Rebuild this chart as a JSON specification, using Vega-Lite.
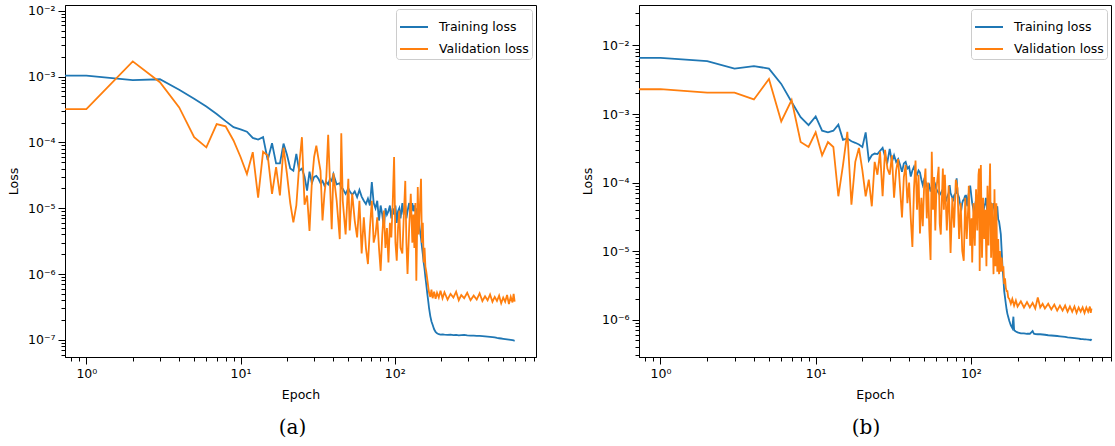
{
  "$schema": "https://vega.github.io/schema/vega-lite/v6.json",
  "background": "white",
  "padding": {"left": 6, "top": 4, "right": 1, "bottom": 5},
  "spacing": 43,
  "config": {
    "view": {"stroke": "#000", "strokeWidth": 1},
    "font": "DejaVu Sans",
    "axis": {"grid": false, "domainColor": "#000", "tickColor": "#000", "tickWidth": 1, "labelColor": "#000", "titleColor": "#000", "labelFont": "DejaVu Sans", "titleFont": "DejaVu Sans", "labelFontSize": 12.5, "titleFontSize": 12.5, "titleFontWeight": "normal", "labelOverlap": false, "labelFlush": false, "labelPadding": 3},
    "legend": {"title": null, "orient": "top-right", "offset": 4, "symbolType": "stroke", "symbolSize": 784, "symbolStrokeWidth": 2, "labelFontSize": 12.5, "labelFont": "DejaVu Sans", "labelColor": "#000", "strokeColor": "#cccccc", "fillColor": "white", "cornerRadius": 3, "padding": 3, "rowPadding": -15, "labelOffset": 10},
    "title": {"font": "DejaVu Serif", "fontSize": 20, "fontWeight": "normal", "color": "#000"}
  },
  "resolve": {"scale": {"color": "independent"}, "legend": {"color": "independent"}},
  "datasets": {
    "a": [
      {"e":0.7,"t":1.03e-3,"v":3.2e-4},{"e":1,"t":1.03e-3,"v":3.2e-4},{"e":2,"t":8.8e-4,"v":1.7e-3},{"e":3,"t":9.1e-4,"v":8.2e-4},
      {"e":4,"t":6.3e-4,"v":3.4e-4},{"e":5,"t":4.6e-4,"v":1.2e-4},{"e":6,"t":3.5e-4,"v":8.4e-5},{"e":7,"t":2.7e-4,"v":1.9e-4},
      {"e":8,"t":2.1e-4,"v":1.75e-4},{"e":9,"t":1.7e-4,"v":1.07e-4},{"e":10,"t":1.58e-4,"v":6e-5},{"e":11,"t":1.45e-4,"v":3.3e-5},
      {"e":12,"t":1.17e-4,"v":7.1e-5},{"e":13,"t":1.1e-4,"v":1.45e-5},{"e":14,"t":1.2e-4,"v":7.2e-5},{"e":15,"t":5.4e-5,"v":6.3e-5},
      {"e":16,"t":9.7e-5,"v":1.65e-5},{"e":17,"t":4.8e-5,"v":4.2e-5},{"e":18,"t":4.8e-5,"v":1.56e-5},{"e":19,"t":9.6e-5,"v":8.3e-5},
      {"e":20,"t":6.5e-5,"v":3.3e-5},{"e":21,"t":4.0e-5,"v":1.2e-5},{"e":22,"t":3.7e-5,"v":6.1e-6},{"e":23,"t":6.7e-5,"v":1.1e-5},
      {"e":24,"t":3.7e-5,"v":4.5e-5},{"e":25,"t":4.0e-5,"v":1.2e-4},{"e":26,"t":3.0e-5,"v":1.13e-5},{"e":27,"t":1.85e-5,"v":1.56e-5},
      {"e":28,"t":3.6e-5,"v":4.5e-6},{"e":29,"t":2.4e-5,"v":2.5e-5},{"e":30,"t":3.0e-5,"v":6e-5},{"e":31,"t":3.1e-5,"v":8.9e-5},
      {"e":32,"t":2.8e-5,"v":5.6e-5},{"e":33,"t":2.4e-5,"v":3.7e-5},{"e":34,"t":2.6e-5,"v":6.5e-6},{"e":35,"t":2.2e-5,"v":1.65e-5},
      {"e":36,"t":2.5e-5,"v":3.0e-5},{"e":37,"t":2.3e-5,"v":1.3e-4},{"e":38,"t":2.8e-5,"v":2.5e-5},{"e":39,"t":2.6e-5,"v":4.8e-6},
      {"e":40,"t":3.3e-5,"v":3.4e-5},{"e":42,"t":2.3e-5,"v":1.3e-5},{"e":44,"t":2.4e-5,"v":3.4e-6},{"e":45,"t":2.0e-5,"v":1.37e-4},
      {"e":46,"t":1.97e-5,"v":1.3e-5},{"e":48,"t":1.65e-5,"v":4e-6},{"e":50,"t":2.0e-5,"v":2.8e-5},{"e":51,"t":1.8e-5,"v":4.6e-6},
      {"e":53,"t":1.6e-5,"v":1.67e-5},{"e":55,"t":1.8e-5,"v":6.5e-6},{"e":57,"t":1.47e-5,"v":3.6e-6},{"e":59,"t":1.9e-5,"v":1.3e-5},
      {"e":61,"t":1.5e-5,"v":2.05e-6},{"e":63,"t":1.3e-5,"v":7.3e-6},{"e":65,"t":1.16e-5,"v":2.5e-6},{"e":67,"t":1.4e-5,"v":1.42e-6},
      {"e":69,"t":1.1e-5,"v":5e-6},{"e":71,"t":2.5e-5,"v":1.3e-5},{"e":73,"t":1.2e-5,"v":3e-6},{"e":75,"t":1.0e-5,"v":4e-6},
      {"e":77,"t":1.3e-5,"v":7.3e-6},{"e":79,"t":6.5e-6,"v":2.5e-6},{"e":81,"t":1.1e-5,"v":1.12e-6},{"e":83,"t":8e-6,"v":4e-6},
      {"e":85,"t":5.1e-6,"v":9.2e-6},{"e":87,"t":1.0e-5,"v":2.5e-6},{"e":89,"t":8e-6,"v":5e-6},{"e":91,"t":9e-6,"v":1.5e-6},
      {"e":93,"t":1.1e-5,"v":6e-6},{"e":95,"t":7e-6,"v":3.6e-6},{"e":97,"t":1.0e-5,"v":1.2e-5},{"e":99,"t":8e-6,"v":6e-5},
      {"e":101,"t":1.1e-5,"v":3e-6},{"e":103,"t":6e-6,"v":1.6e-6},{"e":105,"t":9e-6,"v":5e-6},{"e":107,"t":1.0e-5,"v":9.2e-6},
      {"e":109,"t":7e-6,"v":2.5e-6},{"e":112,"t":1.2e-5,"v":2.05e-6},{"e":114,"t":8e-6,"v":6e-6},{"e":117,"t":1.1e-5,"v":2.6e-5},
      {"e":119,"t":7e-6,"v":3e-6},{"e":121,"t":9e-6,"v":1e-6},{"e":124,"t":1.2e-5,"v":5e-6},{"e":127,"t":8e-6,"v":1.65e-5},
      {"e":130,"t":1.2e-5,"v":3e-6},{"e":132,"t":9e-6,"v":8e-6},{"e":134,"t":1.1e-5,"v":2.5e-6},{"e":136,"t":9e-6,"v":1.2e-5},
      {"e":138,"t":1.0e-5,"v":7.9e-7},{"e":141,"t":5.7e-6,"v":2.1e-5},{"e":143,"t":7e-6,"v":4e-6},{"e":145,"t":5e-6,"v":9e-6},
      {"e":148,"t":3.5e-6,"v":2.8e-5},{"e":150,"t":2.6e-6,"v":3e-6},{"e":152,"t":2e-6,"v":6e-6},{"e":154,"t":1.5e-6,"v":1.5e-6},
      {"e":156,"t":1.2e-6,"v":2.5e-6},{"e":158,"t":9e-7,"v":1.3e-6},{"e":160,"t":7e-7,"v":1.1e-6},{"e":163,"t":4.8e-7,"v":7.9e-7},
      {"e":165,"t":3.8e-7,"v":6.3e-7},{"e":167,"t":3.0e-7,"v":5.2e-7},{"e":170,"t":2.3e-7,"v":4.5e-7},{"e":173,"t":1.9e-7,"v":5.8e-7},
      {"e":176,"t":1.7e-7,"v":4.3e-7},{"e":180,"t":1.45e-7,"v":5.4e-7},{"e":184,"t":1.32e-7,"v":4.2e-7},{"e":188,"t":1.26e-7,"v":5.2e-7},
      {"e":193,"t":1.22e-7,"v":4.4e-7},{"e":198,"t":1.2e-7,"v":5.6e-7},{"e":204,"t":1.21e-7,"v":4.3e-7},{"e":210,"t":1.2e-7,"v":5.3e-7},
      {"e":220,"t":1.19e-7,"v":4.1e-7},{"e":230,"t":1.2e-7,"v":5.0e-7},{"e":240,"t":1.18e-7,"v":4.4e-7},{"e":250,"t":1.19e-7,"v":5.4e-7},
      {"e":260,"t":1.17e-7,"v":4.0e-7},{"e":270,"t":1.18e-7,"v":4.8e-7},{"e":282,"t":1.19e-7,"v":4.3e-7},{"e":295,"t":1.17e-7,"v":5.2e-7},
      {"e":310,"t":1.16e-7,"v":4.0e-7},{"e":325,"t":1.16e-7,"v":4.7e-7},{"e":340,"t":1.15e-7,"v":4.1e-7},{"e":355,"t":1.15e-7,"v":5.1e-7},
      {"e":370,"t":1.14e-7,"v":3.9e-7},{"e":385,"t":1.13e-7,"v":4.6e-7},{"e":400,"t":1.12e-7,"v":4.0e-7},{"e":415,"t":1.11e-7,"v":4.9e-7},
      {"e":430,"t":1.1e-7,"v":3.8e-7},{"e":445,"t":1.09e-7,"v":4.5e-7},{"e":460,"t":1.07e-7,"v":3.9e-7},{"e":475,"t":1.06e-7,"v":4.7e-7},
      {"e":490,"t":1.05e-7,"v":3.6e-7},{"e":505,"t":1.04e-7,"v":4.4e-7},{"e":520,"t":1.03e-7,"v":3.8e-7},{"e":535,"t":1.02e-7,"v":4.8e-7},
      {"e":550,"t":1.01e-7,"v":3.5e-7},{"e":565,"t":1.0e-7,"v":4.5e-7},{"e":580,"t":9.9e-8,"v":3.7e-7},{"e":590,"t":9.8e-8,"v":5.0e-7},
      {"e":599,"t":9.7e-8,"v":3.8e-7}
    ],
    "b": [
      {"e":0.7,"t":6.6e-3,"v":2.3e-3},{"e":1,"t":6.6e-3,"v":2.3e-3},{"e":2,"t":5.9e-3,"v":2.05e-3},{"e":3,"t":4.6e-3,"v":2.05e-3},
      {"e":4,"t":5.0e-3,"v":1.63e-3},{"e":5,"t":4.6e-3,"v":3.25e-3},{"e":6,"t":2.75e-3,"v":7.8e-4},{"e":7,"t":1.5e-3,"v":1.6e-3},
      {"e":8,"t":9.0e-4,"v":3.9e-4},{"e":9,"t":6.9e-4,"v":3.3e-4},{"e":10,"t":9.2e-4,"v":5.4e-4},{"e":11,"t":5.7e-4,"v":2.5e-4},
      {"e":12,"t":5.4e-4,"v":3.9e-4},{"e":13,"t":5.7e-4,"v":3.3e-4},{"e":14,"t":7e-4,"v":6.3e-5},{"e":15,"t":4.2e-4,"v":1.8e-4},
      {"e":16,"t":4.4e-4,"v":5.5e-4},{"e":17,"t":4.0e-4,"v":4.75e-5},{"e":18,"t":3.8e-4,"v":2e-4},{"e":19,"t":3.6e-4,"v":3.2e-4},
      {"e":20,"t":3.3e-4,"v":1.5e-4},{"e":21,"t":5.4e-4,"v":6.3e-5},{"e":22,"t":2.1e-4,"v":1.1e-4},{"e":23,"t":2.5e-4,"v":4.5e-5},
      {"e":24,"t":2.65e-4,"v":2e-4},{"e":25,"t":2.6e-4,"v":1.3e-4},{"e":26,"t":2.9e-4,"v":2.8e-4},{"e":27,"t":3.2e-4,"v":6.3e-5},
      {"e":28,"t":2.4e-4,"v":3e-4},{"e":29,"t":2.0e-4,"v":1.6e-4},{"e":30,"t":3.1e-4,"v":1.3e-4},{"e":31,"t":2.0e-4,"v":2.5e-4},
      {"e":32,"t":2.5e-4,"v":6e-5},{"e":33,"t":2.0e-4,"v":1.5e-4},{"e":34,"t":2.2e-4,"v":2.2e-4},{"e":35,"t":1.8e-4,"v":8e-5},
      {"e":36,"t":1.43e-4,"v":3.1e-5},{"e":37,"t":1.9e-4,"v":1.2e-4},{"e":38,"t":2e-4,"v":1.8e-4},{"e":39,"t":1.6e-4,"v":5e-5},
      {"e":40,"t":1.7e-4,"v":1.0e-4},{"e":41,"t":1.22e-4,"v":3e-5},{"e":42,"t":1.5e-4,"v":1.15e-5},{"e":43,"t":1.7e-4,"v":8e-5},
      {"e":44,"t":1.4e-4,"v":2.1e-4},{"e":45,"t":1.3e-4,"v":4e-5},{"e":46,"t":1.5e-4,"v":1.3e-4},{"e":47,"t":1.4e-4,"v":1.8e-5},
      {"e":48,"t":1.1e-4,"v":6e-5},{"e":49,"t":9.2e-5,"v":2.3e-5},{"e":50,"t":1.1e-4,"v":9e-5},{"e":51,"t":1.03e-4,"v":1.6e-4},
      {"e":52,"t":9e-5,"v":3e-5},{"e":53,"t":8e-5,"v":1.0e-4},{"e":54,"t":9e-5,"v":2e-5},{"e":55,"t":7.4e-5,"v":7.4e-6},
      {"e":56,"t":8.5e-5,"v":2.8e-4},{"e":57,"t":1.0e-4,"v":4e-5},{"e":58,"t":8e-5,"v":1.2e-4},{"e":59,"t":9.2e-5,"v":2e-5},
      {"e":60,"t":8e-5,"v":8e-5},{"e":62,"t":7e-5,"v":1.7e-4},{"e":63,"t":6.6e-5,"v":2.5e-5},{"e":64,"t":7e-5,"v":1.74e-5},
      {"e":66,"t":8e-5,"v":1.6e-4},{"e":67,"t":6e-5,"v":4e-5},{"e":68,"t":6.5e-5,"v":1.3e-4},{"e":69,"t":5.3e-5},
      {"e":70,"t":6e-5,"v":2e-5},{"e":72,"t":7e-5,"v":9e-5},{"e":73,"t":9.2e-5},{"e":74,"t":7e-5,"v":9.4e-6},
      {"e":76,"t":6e-5,"v":6e-5},{"e":77,"t":5.3e-5},{"e":78,"t":6.5e-5,"v":2.2e-5},{"e":80,"t":7e-5,"v":1.1e-4},
      {"e":81,"t":1.15e-4},{"e":82,"t":7e-5,"v":8.3e-5},{"e":84,"t":6e-5,"v":1.5e-5},{"e":85,"t":5e-5},
      {"e":86,"t":4.5e-5,"v":5e-5},{"e":87,"t":4.2e-5},{"e":88,"t":5e-5,"v":1e-5},{"e":89,"t":5.5e-5},
      {"e":90,"t":5.5e-5,"v":7.2e-6},{"e":91,"t":6e-5},{"e":92,"t":5.5e-5,"v":6e-5},{"e":93,"t":6.6e-5},
      {"e":94,"t":5e-5,"v":1.5e-5},{"e":95,"t":4.5e-5},{"e":96,"t":6e-5,"v":4e-5},{"e":97,"t":7e-5,"v":9e-5},
      {"e":99,"t":9e-5,"v":1.2e-5},{"e":101,"t":6e-5,"v":3e-5},{"e":102,"t":5e-5,"v":6.8e-6},{"e":103,"t":4.5e-5},
      {"e":104,"t":4e-5,"v":5e-5},{"e":105,"t":3.3e-5},{"e":106,"t":4e-5,"v":1.2e-5},{"e":107,"t":5e-5},
      {"e":108,"t":5.5e-5,"v":8e-5},{"e":109,"t":6e-5},{"e":110,"t":5e-5,"v":2e-5},{"e":111,"t":4.75e-5},
      {"e":112,"t":5e-5,"v":1.3e-4},{"e":113,"t":6e-5,"v":1.6e-4},{"e":114,"t":5e-5,"v":5.1e-6},{"e":115,"t":4e-5},
      {"e":116,"t":4.5e-5,"v":1.8e-4},{"e":117,"t":5e-5},{"e":118,"t":4e-5,"v":8e-6},{"e":120,"t":3.5e-5,"v":6e-5},
      {"e":122,"t":4.5e-5,"v":1.5e-5},{"e":124,"t":5e-5,"v":4e-5},{"e":125,"t":6e-5},{"e":126,"t":5e-5,"v":6e-6},
      {"e":127,"t":4e-5},{"e":128,"t":4.5e-5,"v":9e-5},{"e":130,"t":3.5e-5,"v":1.2e-5},{"e":132,"t":5.5e-5},
      {"e":133,"t":4.5e-5,"v":1.9e-4},{"e":135,"t":4.75e-5,"v":8e-6},{"e":137,"t":3.5e-5,"v":5e-5},{"e":140,"t":5e-5,"v":4.6e-6},
      {"e":142,"t":4.5e-5,"v":8e-5},{"e":143,"t":4e-5},{"e":144,"t":4.2e-5,"v":6e-6},{"e":146,"t":3.8e-5,"v":5e-5},
      {"e":148,"t":4.5e-5,"v":5e-6},{"e":150,"t":2.9e-5,"v":1.5e-5},{"e":152,"t":2.7e-5,"v":4.6e-6},{"e":154,"t":2.2e-5,"v":1.0e-5},
      {"e":156,"t":1.75e-5,"v":5e-6},{"e":158,"t":1.0e-5,"v":8e-6},{"e":160,"t":5.7e-6,"v":5.1e-6},{"e":162,"t":4e-6,"v":6e-6},
      {"e":164,"t":2.6e-6,"v":3.3e-6},{"e":166,"t":2.1e-6,"v":4e-6},{"e":168,"t":1.7e-6,"v":2.9e-6},{"e":170,"t":1.4e-6,"v":2.6e-6},
      {"e":172,"t":1.21e-6,"v":2.6e-6},{"e":174,"t":1.1e-6,"v":2.1e-6},{"e":177,"t":9.5e-7,"v":2.0e-6},{"e":181,"t":8.2e-7,"v":1.7e-6},
      {"e":185,"t":7.5e-7,"v":2.0e-6},{"e":188,"t":1.1e-6},{"e":190,"t":7e-7,"v":1.6e-6},{"e":195,"t":6.7e-7,"v":1.9e-6},
      {"e":200,"t":6.5e-7,"v":1.55e-6},{"e":210,"t":6.3e-7,"v":1.85e-6},{"e":220,"t":6.3e-7,"v":1.5e-6},{"e":230,"t":6.2e-7,"v":1.8e-6},
      {"e":240,"t":6.2e-7,"v":1.5e-6},{"e":250,"t":6.8e-7,"v":1.75e-6},{"e":255,"t":6.2e-7},{"e":260,"t":6.15e-7,"v":1.45e-6},
      {"e":270,"t":6.1e-7,"v":2.1e-6},{"e":280,"t":6.1e-7,"v":1.5e-6},{"e":290,"t":6.05e-7,"v":1.7e-6},{"e":300,"t":6.0e-7,"v":1.45e-6},
      {"e":315,"t":5.9e-7,"v":1.7e-6},{"e":330,"t":5.85e-7,"v":1.4e-6},{"e":345,"t":5.8e-7,"v":1.65e-6},{"e":360,"t":5.75e-7,"v":1.35e-6},
      {"e":375,"t":5.7e-7,"v":1.6e-6},{"e":390,"t":5.65e-7,"v":1.35e-6},{"e":405,"t":5.6e-7,"v":1.6e-6},{"e":420,"t":5.5e-7,"v":1.3e-6},
      {"e":435,"t":5.45e-7,"v":1.55e-6},{"e":450,"t":5.4e-7,"v":1.3e-6},{"e":465,"t":5.35e-7,"v":1.55e-6},{"e":480,"t":5.3e-7,"v":1.25e-6},
      {"e":495,"t":5.25e-7,"v":1.5e-6},{"e":510,"t":5.2e-7,"v":1.3e-6},{"e":525,"t":5.18e-7,"v":1.5e-6},{"e":540,"t":5.15e-7,"v":1.25e-6},
      {"e":555,"t":5.12e-7,"v":1.5e-6},{"e":570,"t":5.1e-7,"v":1.3e-6},{"e":585,"t":5.05e-7,"v":1.55e-6},{"e":592,"t":5.0e-7,"v":1.25e-6},
      {"e":599,"t":5.2e-7,"v":1.45e-6}
    ]
  },
  "hconcat": [
    {
      "width": 471,
      "height": 352,
      "data": {"name": "a"},
      "title": {"text": "(a)", "orient": "bottom", "frame": "group", "dx": -8, "offset": 17},
      "transform": [{"fold": ["t", "v"], "as": ["s", "y"]}, {"filter": "isValid(datum.y) && datum.y > 0"}],
      "mark": {"type": "line", "strokeWidth": 1.8, "clip": true},
      "encoding": {
        "x": {"field": "e", "type": "quantitative", "scale": {"type": "log", "domain": [0.727, 824], "nice": false},
          "axis": {"title": "Epoch", "titlePadding": 9,
            "values": [0.8,0.9,1,2,3,4,5,6,7,8,9,10,20,30,40,50,60,70,80,90,100,200,300,400,500,600,700,800],
            "labelExpr": "abs(log(datum.value)/LN10 - round(log(datum.value)/LN10)) < 0.01 ? '10' + (round(log(datum.value)/LN10) < 0 ? '⁻' : '') + ['⁰','¹','²','³','⁴','⁵','⁶','⁷','⁸','⁹'][abs(round(log(datum.value)/LN10))] : ''",
            "tickSize": {"condition": {"test": "abs(log(datum.value)/LN10 - round(log(datum.value)/LN10)) < 0.01", "value": 7}, "value": 4}}},
        "y": {"field": "y", "type": "quantitative", "scale": {"type": "log", "domain": [5.5e-8, 1.22e-2], "nice": false},
          "axis": {"title": "Loss", "titlePadding": 7,
            "values": [6e-8,7e-8,8e-8,9e-8,1e-7,2e-7,3e-7,4e-7,5e-7,6e-7,7e-7,8e-7,9e-7,1e-6,2e-6,3e-6,4e-6,5e-6,6e-6,7e-6,8e-6,9e-6,1e-5,2e-5,3e-5,4e-5,5e-5,6e-5,7e-5,8e-5,9e-5,1e-4,2e-4,3e-4,4e-4,5e-4,6e-4,7e-4,8e-4,9e-4,1e-3,2e-3,3e-3,4e-3,5e-3,6e-3,7e-3,8e-3,9e-3,1e-2],
            "labelExpr": "abs(log(datum.value)/LN10 - round(log(datum.value)/LN10)) < 0.01 ? '10' + (round(log(datum.value)/LN10) < 0 ? '⁻' : '') + ['⁰','¹','²','³','⁴','⁵','⁶','⁷','⁸','⁹'][abs(round(log(datum.value)/LN10))] : ''",
            "tickSize": {"condition": {"test": "abs(log(datum.value)/LN10 - round(log(datum.value)/LN10)) < 0.01", "value": 7}, "value": 4}}},
        "color": {"field": "s", "type": "nominal", "scale": {"domain": ["t", "v"], "range": ["#1f77b4", "#ff7f0e"]},
          "legend": {"labelExpr": "datum.label == 't' ? 'Training loss' : 'Validation loss'"}}
      }
    },
    {
      "width": 472,
      "height": 352,
      "data": {"name": "b"},
      "title": {"text": "(b)", "orient": "bottom", "frame": "group", "dx": -9, "offset": 17},
      "transform": [{"fold": ["t", "v"], "as": ["s", "y"]}, {"filter": "isValid(datum.y) && datum.y > 0"}],
      "mark": {"type": "line", "strokeWidth": 1.8, "clip": true},
      "encoding": {
        "x": {"field": "e", "type": "quantitative", "scale": {"type": "log", "domain": [0.727, 800], "nice": false},
          "axis": {"title": "Epoch", "titlePadding": 9,
            "values": [0.8,0.9,1,2,3,4,5,6,7,8,9,10,20,30,40,50,60,70,80,90,100,200,300,400,500,600,700,800],
            "labelExpr": "abs(log(datum.value)/LN10 - round(log(datum.value)/LN10)) < 0.01 ? '10' + (round(log(datum.value)/LN10) < 0 ? '⁻' : '') + ['⁰','¹','²','³','⁴','⁵','⁶','⁷','⁸','⁹'][abs(round(log(datum.value)/LN10))] : ''",
            "tickSize": {"condition": {"test": "abs(log(datum.value)/LN10 - round(log(datum.value)/LN10)) < 0.01", "value": 7}, "value": 4}}},
        "y": {"field": "y", "type": "quantitative", "scale": {"type": "log", "domain": [2.84e-7, 3.9e-2], "nice": false},
          "axis": {"title": "Loss", "titlePadding": 7,
            "values": [3e-7,4e-7,5e-7,6e-7,7e-7,8e-7,9e-7,1e-6,2e-6,3e-6,4e-6,5e-6,6e-6,7e-6,8e-6,9e-6,1e-5,2e-5,3e-5,4e-5,5e-5,6e-5,7e-5,8e-5,9e-5,1e-4,2e-4,3e-4,4e-4,5e-4,6e-4,7e-4,8e-4,9e-4,1e-3,2e-3,3e-3,4e-3,5e-3,6e-3,7e-3,8e-3,9e-3,1e-2,2e-2,3e-2],
            "labelExpr": "abs(log(datum.value)/LN10 - round(log(datum.value)/LN10)) < 0.01 ? '10' + (round(log(datum.value)/LN10) < 0 ? '⁻' : '') + ['⁰','¹','²','³','⁴','⁵','⁶','⁷','⁸','⁹'][abs(round(log(datum.value)/LN10))] : ''",
            "tickSize": {"condition": {"test": "abs(log(datum.value)/LN10 - round(log(datum.value)/LN10)) < 0.01", "value": 7}, "value": 4}}},
        "color": {"field": "s", "type": "nominal", "scale": {"domain": ["t", "v"], "range": ["#1f77b4", "#ff7f0e"]},
          "legend": {"labelExpr": "datum.label == 't' ? 'Training loss' : 'Validation loss'"}}
      }
    }
  ]
}
